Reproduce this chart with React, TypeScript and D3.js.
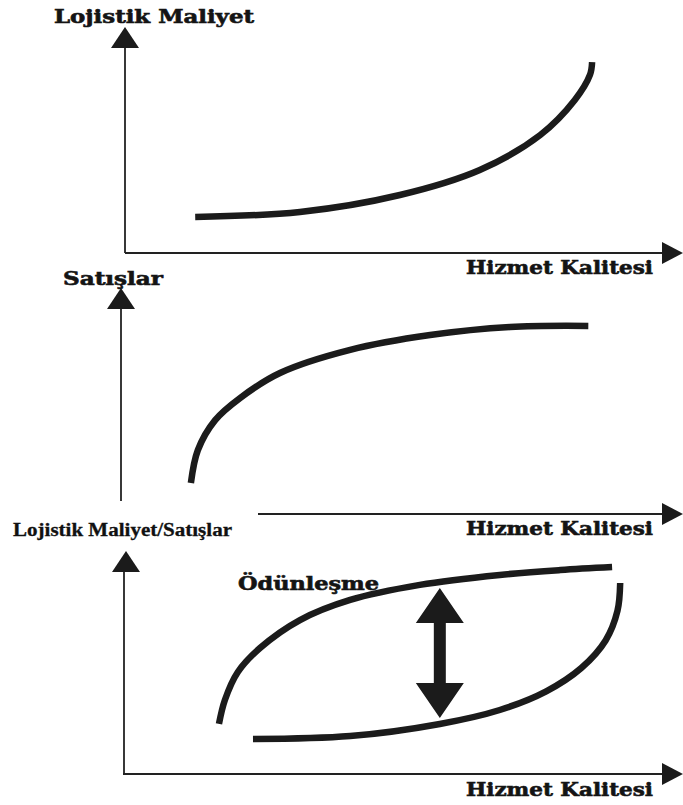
import React from "react";
import * as d3 from "d3";

// Shared horizontal axis: Hizmet Kalitesi (0–100)
const xLabel = "Hizmet Kalitesi";

// Panel 1: Lojistik Maliyet vs Hizmet Kalitesi
const costX = [13.0, 32.4, 50.9, 65.7, 76.9, 83.3, 86.1, 86.5];
const costY = [16.5, 18.9, 26.9, 38.7, 55.2, 71.7, 83.5, 89.6];

// Panel 2: Satışlar vs Hizmet Kalitesi
const salesX = [12.2, 13.5, 16.7, 21.3, 28.7, 41.7, 56.5, 71.3, 85.8];
const salesY = [14.6, 30.2, 44.3, 54.7, 66.5, 77.4, 84.4, 88.2, 88.7];

// Panel 3: Lojistik Maliyet/Satışlar — upper (sales) and lower (cost) curves
const upperX = [17.4, 18.5, 20.9, 25.0, 32.4, 41.7, 54.6, 69.4, 80.6, 90.2];
const upperY = [23.6, 34.9, 48.1, 59.4, 72.6, 82.1, 89.2, 93.9, 96.2, 97.6];
const lowerX = [23.7, 41.7, 58.3, 69.4, 78.0, 84.5, 89.0, 91.2, 91.7];
const lowerY = [16.5, 17.9, 23.6, 30.2, 39.0, 50.0, 63.0, 77.0, 90.1];

// Trade-off double arrow (Ödünleşme)
const tradeX = 58.3;
const tradeTop = 87.7;
const tradeBottom = 26.4;

const zip = (xs: number[], ys: number[]) => xs.map((x, i) => [x, ys[i]] as [number, number]);

export default function App() {
  const W = 683;
  const H = 805;
  const x = d3.scaleLinear().domain([0, 100]).range([125, 665]);
  const y1 = d3.scaleLinear().domain([0, 100]).range([252, 40]);
  const y2 = d3.scaleLinear().domain([0, 100]).range([514, 302]);
  const y3 = d3.scaleLinear().domain([0, 100]).range([774, 562]);

  const mk = (ys: d3.ScaleLinear<number, number>) =>
    d3
      .line<[number, number]>()
      .x((d) => x(d[0]))
      .y((d) => ys(d[1]))
      .curve(d3.curveCatmullRom.alpha(0.5));

  const curveStyle = {
    fill: "none",
    stroke: "#1b1b1b",
    strokeWidth: 6.5,
    strokeLinecap: "butt" as const,
  };
  const axisStyle = { stroke: "#222", strokeWidth: 1.8 };
  const labelFont = "'DejaVu Serif', serif";
  const textColor = "#141414";
  const textStroke = { stroke: "#141414", strokeWidth: 0.6 };

  const upArrow = (cx: number, tip: number) =>
    `M${cx},${tip} L${cx - 14},${tip + 21} L${cx + 14},${tip + 21} Z`;
  const rightArrow = (tipX: number, cy: number) =>
    `M${tipX},${cy} L${tipX - 21},${cy - 11} L${tipX - 21},${cy + 11} Z`;

  const ax = x(tradeX);
  const at = y3(tradeTop);
  const ab = y3(tradeBottom);
  const headH = 35;
  const headW = 24;
  const shaft = 6;
  const dblArrow = [
    `M${ax},${at}`,
    `L${ax + headW},${at + headH}`,
    `L${ax + shaft},${at + headH}`,
    `L${ax + shaft},${ab - headH}`,
    `L${ax + headW},${ab - headH}`,
    `L${ax},${ab}`,
    `L${ax - headW},${ab - headH}`,
    `L${ax - shaft},${ab - headH}`,
    `L${ax - shaft},${at + headH}`,
    `L${ax - headW},${at + headH}`,
    "Z",
  ].join(" ");

  return (
    <svg
      width={W}
      height={H}
      style={{ position: "absolute", left: 0, top: 0, background: "#fff" }}
    >
      {/* Panel 1 */}
      <line x1={125} y1={44} x2={125} y2={253} style={axisStyle} />
      <path d={upArrow(125, 27)} fill="#1b1b1b" />
      <line x1={125} y1={253} x2={665} y2={253} style={axisStyle} />
      <path d={rightArrow(683, 253)} fill="#1b1b1b" />
      <path d={mk(y1)(zip(costX, costY)) || ""} style={curveStyle} />
      <text
        x={54}
        y={23}
        fontFamily={labelFont}
        fontWeight="bold"
        fontSize={18}
        fill={textColor}
        style={textStroke}
        textLength={200}
        lengthAdjust="spacingAndGlyphs"
      >
        Lojistik Maliyet
      </text>
      <text
        x={466}
        y={274}
        fontFamily={labelFont}
        fontWeight="bold"
        fontSize={18}
        fill={textColor}
        style={textStroke}
        textLength={187}
        lengthAdjust="spacingAndGlyphs"
      >
        {xLabel}
      </text>

      {/* Panel 2 */}
      <line x1={121} y1={305} x2={121} y2={501} style={axisStyle} />
      <path d={upArrow(121, 288)} fill="#1b1b1b" />
      <line x1={258} y1={514} x2={665} y2={514} style={axisStyle} />
      <path d={rightArrow(683, 514)} fill="#1b1b1b" />
      <path d={mk(y2)(zip(salesX, salesY)) || ""} style={curveStyle} />
      <text
        x={63}
        y={285}
        fontFamily={labelFont}
        fontWeight="bold"
        fontSize={18}
        fill={textColor}
        style={textStroke}
        textLength={100}
        lengthAdjust="spacingAndGlyphs"
      >
        Satışlar
      </text>
      <text
        x={13}
        y={536}
        fontFamily="'Liberation Serif', 'Times New Roman', serif"
        fontWeight="bold"
        fontSize={18}
        fill="#111"
        style={{ stroke: "#111", strokeWidth: 0.3 }}
        textLength={219}
        lengthAdjust="spacingAndGlyphs"
      >
        Lojistik Maliyet/Satışlar
      </text>
      <text
        x={466}
        y={535}
        fontFamily={labelFont}
        fontWeight="bold"
        fontSize={18}
        fill={textColor}
        style={textStroke}
        textLength={187}
        lengthAdjust="spacingAndGlyphs"
      >
        {xLabel}
      </text>

      {/* Panel 3 */}
      <line x1={124} y1={568} x2={124} y2={775} style={axisStyle} />
      <path d={upArrow(126, 551)} fill="#1b1b1b" />
      <line x1={123} y1={774} x2={665} y2={774} style={axisStyle} />
      <path d={rightArrow(683, 774)} fill="#1b1b1b" />
      <path d={mk(y3)(zip(upperX, upperY)) || ""} style={curveStyle} />
      <path d={mk(y3)(zip(lowerX, lowerY)) || ""} style={curveStyle} />
      <path d={dblArrow} fill="#1b1b1b" />
      <text
        x={238}
        y={590}
        fontFamily={labelFont}
        fontWeight="bold"
        fontSize={18}
        fill={textColor}
        style={textStroke}
        textLength={141}
        lengthAdjust="spacingAndGlyphs"
      >
        Ödünleşme
      </text>
      <text
        x={466}
        y={796}
        fontFamily={labelFont}
        fontWeight="bold"
        fontSize={18}
        fill={textColor}
        style={textStroke}
        textLength={187}
        lengthAdjust="spacingAndGlyphs"
      >
        {xLabel}
      </text>
    </svg>
  );
}
